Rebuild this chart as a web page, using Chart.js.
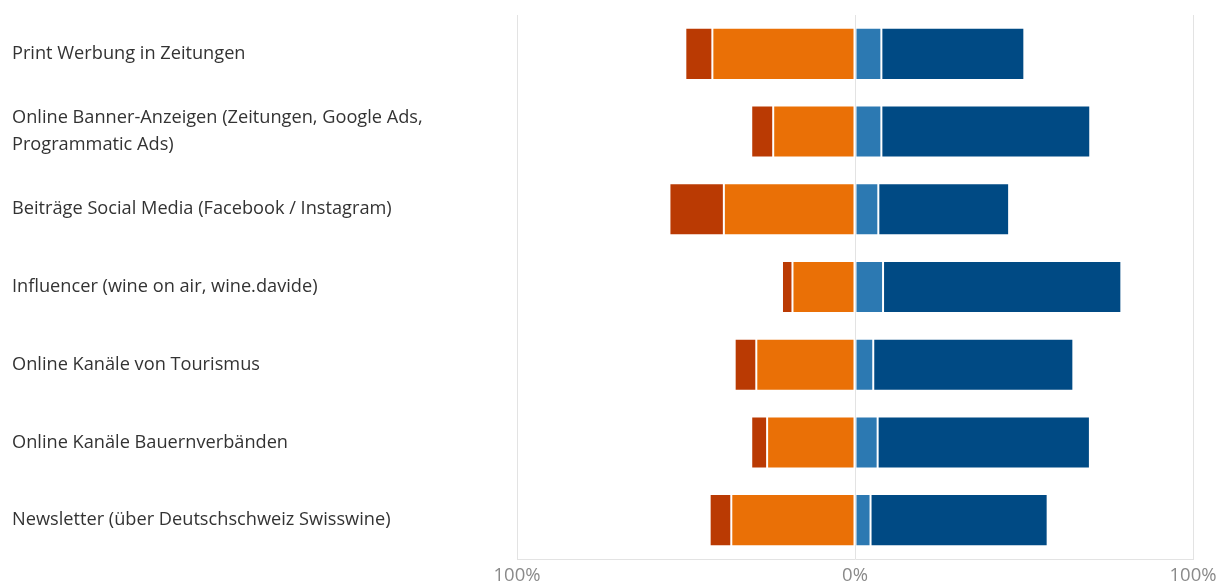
<!DOCTYPE html>
<html>
<head>
<meta charset="utf-8">
<script src="https://cdn.jsdelivr.net/npm/chart.js@4/dist/chart.umd.min.js"></script>
<style>
  html, body { margin: 0; padding: 0; background: #fff; }
  #wrap { width: 1218px; height: 583px; }
</style>
</head>
<body>
<div id="wrap"><canvas id="chart-Kanaele"></canvas></div>
<script>
const kanaele = [
    'Print Werbung in Zeitungen',
    ['Online Banner-Anzeigen (Zeitungen, Google Ads,', 'Programmatic Ads)'],
    'Beiträge Social Media (Facebook / Instagram)',
    'Influencer (wine on air, wine.davide)',
    'Online Kanäle von Tourismus',
    'Online Kanäle Bauernverbänden',
    'Newsletter (über Deutschschweiz Swisswine)'
];
// shares in %, negative side drawn to the left of 0
const eherNegativ = [42.2, 24.2, 38.8, 18.5, 29.2, 26.0, 36.6];
const sehrNegativ = [8.0, 6.5, 16.1, 3.1, 6.4, 4.7, 6.4];
const eherPositiv = [7.8, 7.8, 6.9, 8.3, 5.4, 6.7, 4.6];
const sehrPositiv = [42.3, 61.8, 38.7, 70.5, 59.2, 62.8, 52.4];
const xTicks = [-100, 0, 100];

const neg = arr => arr.map(v => -v);
const fontFamily = '"Open Sans", "Noto Sans", sans-serif';

const ctx = document.getElementById('chart-Kanaele').getContext('2d');
const segment = (label, data, color) => ({
    label: label,
    data: data,
    backgroundColor: color,
    borderColor: 'rgba(255,255,255,0.12)',
    borderWidth: 1,
    borderSkipped: false,
    categoryPercentage: 1,
    barPercentage: 0.67
});

const chart = new Chart(ctx, {
    type: 'bar',
    data: {
        labels: kanaele,
        datasets: [
            segment('eher negativ', neg(eherNegativ), '#EA7006'),
            segment('sehr negativ', neg(sehrNegativ), '#BA3A03'),
            segment('eher positiv', eherPositiv, '#2C79B2'),
            segment('sehr positiv', sehrPositiv, '#004A84')
        ]
    },
    options: {
        indexAxis: 'y',
        responsive: true,
        maintainAspectRatio: false,
        animation: false,
        layout: { padding: { left: 12, right: 25, top: 15, bottom: 0 } },
        plugins: {
            legend: { display: false },
            tooltip: { enabled: false }
        },
        scales: {
            x: {
                stacked: true,
                min: -100,
                max: 100,
                afterBuildTicks: scale => { scale.ticks = xTicks.map(v => ({ value: v })); },
                afterFit: scale => {
                    scale.height = 24;
                    scale.paddingLeft = 0;
                    scale.paddingRight = 0;
                },
                grid: { color: '#e3e3e3', drawTicks: false, lineWidth: 1 },
                border: { display: true, color: '#e3e3e3' },
                ticks: {
                    padding: 6,
                    color: '#8a8a8a',
                    font: { family: fontFamily, size: 18.5 },
                    callback: v => Math.abs(v) + '%'
                }
            },
            y: {
                stacked: true,
                grid: { display: false },
                border: { display: false },
                afterFit: scale => { scale.width = 505; },
                ticks: {
                    crossAlign: 'far',
                    padding: 0,
                    color: '#333333',
                    font: { family: fontFamily, size: 18.2, lineHeight: 1.5 }
                }
            }
        }
    }
});
</script>
</body>
</html>
